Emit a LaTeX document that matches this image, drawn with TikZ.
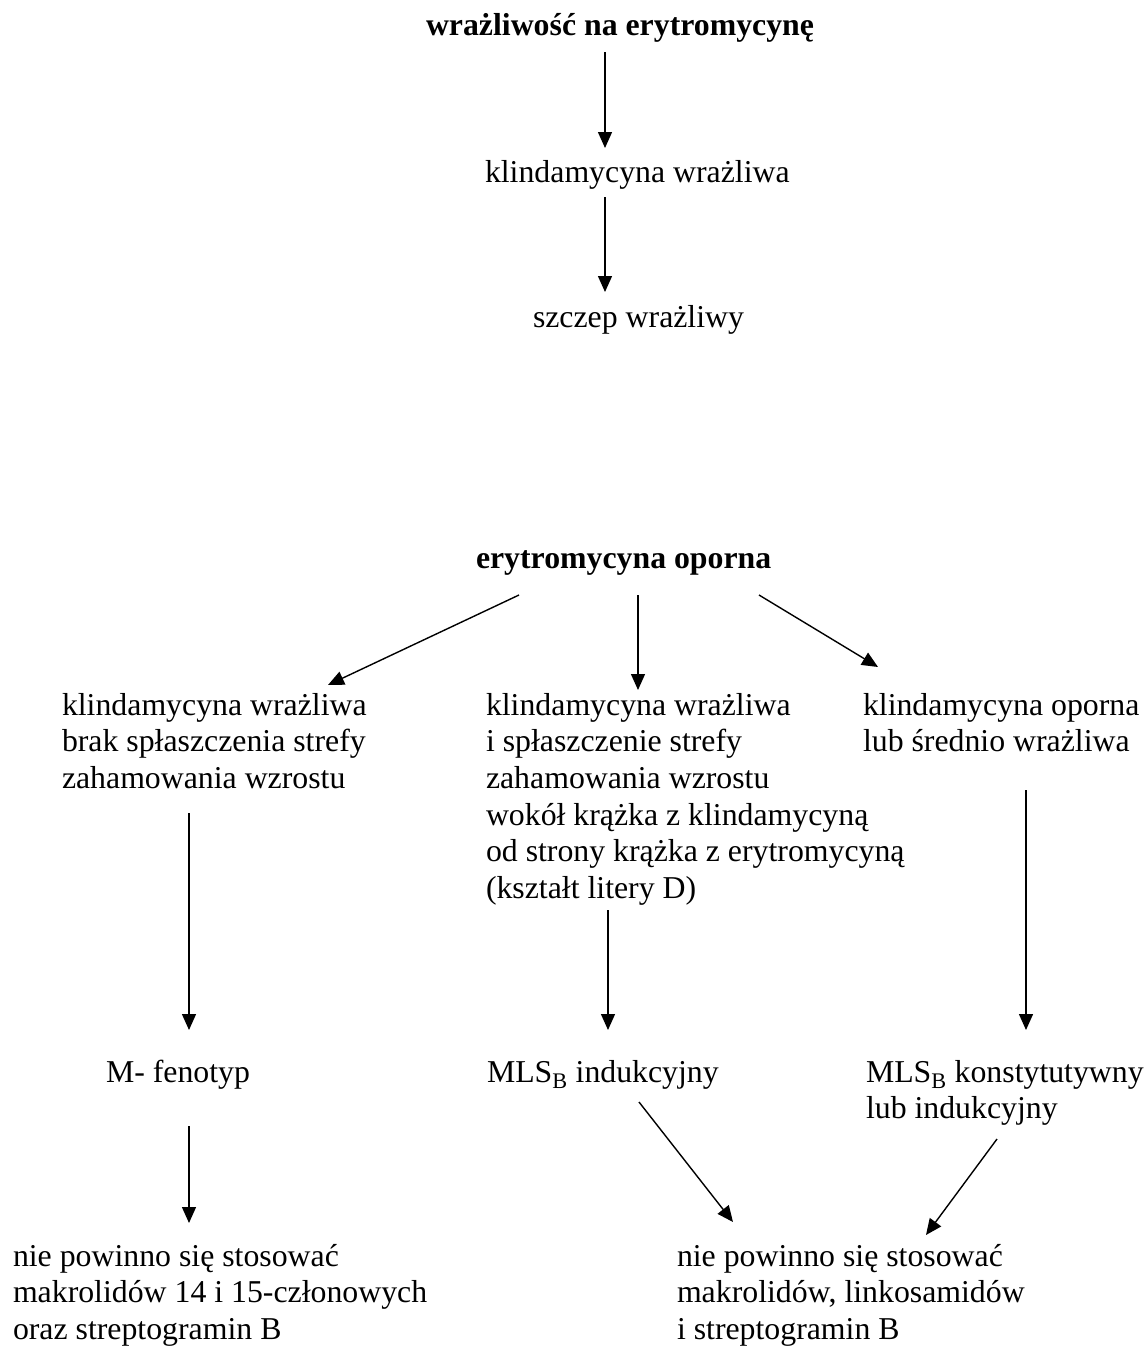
\documentclass[tikz,border=0pt]{standalone}
\usepackage{fontspec}
\setmainfont{Liberation Serif}
\usetikzlibrary{arrows.meta}
\tikzset{
  txt/.style={anchor=base west, inner sep=0pt, outer sep=0pt, align=left,
    font=\fontsize{31.8}{36.7}\selectfont},
  btxt/.style={txt, font=\fontsize{31.8}{36.7}\selectfont\bfseries},
  arr/.style={line width=1.4pt, -{Triangle[length=16pt,width=14pt]}}
}
\begin{document}
\begin{tikzpicture}[x=1pt,y=-1pt]
\useasboundingbox (0,0) rectangle (1146,1347);
% texts (multi-line nodes are placed by the baseline of their last line)
\node[btxt] (title) at (426,35) {wrażliwość na erytromycynę};
\node[txt] (k1) at (485,182) {klindamycyna wrażliwa};
\node[txt] (s1) at (533,327) {szczep wrażliwy};
\node[btxt] (op) at (476,568) {erytromycyna oporna};
\node[txt] (L1) at (62,788.4) {klindamycyna wrażliwa\\brak spłaszczenia strefy\\zahamowania wzrostu};
\node[txt] (M1) at (486,898.5) {klindamycyna wrażliwa\\i spłaszczenie strefy\\zahamowania wzrostu\\wokół krążka z klindamycyną\\od strony krążka z erytromycyną\\(kształt litery D)};
\node[txt] (R1) at (863,751.7) {klindamycyna oporna\\lub średnio wrażliwa};
\node[txt] (L2) at (106,1082) {M- fenotyp};
\node[txt] (M2) at (487,1082) {MLS\textsubscript{B} indukcyjny};
\node[txt] (R2) at (866,1118.7) {MLS\textsubscript{B} konstytutywny\\lub indukcyjny};
\node[txt] (L3) at (13,1339.4) {nie powinno się stosować\\makrolidów 14 i 15-członowych\\oraz streptogramin B};
\node[txt] (M3) at (677,1339.4) {nie powinno się stosować\\makrolidów, linkosamidów\\i streptogramin B};
% connector end points
\coordinate (a1s) at (605,52);   \coordinate (a1e) at (605,148);
\coordinate (a2s) at (605,197);  \coordinate (a2e) at (605,292);
\coordinate (a3s) at (519,595);  \coordinate (a3e) at (328,685);
\coordinate (a4s) at (638,595);  \coordinate (a4e) at (638,690);
\coordinate (a5s) at (759,595);  \coordinate (a5e) at (878,667);
\coordinate (a6s) at (189,813);  \coordinate (a6e) at (189,1030);
\coordinate (a7s) at (608,910);  \coordinate (a7e) at (608,1030);
\coordinate (a8s) at (1026,790); \coordinate (a8e) at (1026,1030);
\coordinate (a9s) at (189,1126); \coordinate (a9e) at (189,1223);
\coordinate (a10s) at (639,1102); \coordinate (a10e) at (733,1222);
\coordinate (a11s) at (997,1139); \coordinate (a11e) at (926,1235);
% connectors
\draw[arr] (a1s) -- (a1e);
\draw[arr] (a2s) -- (a2e);
\draw[arr] (a3s) -- (a3e);
\draw[arr] (a4s) -- (a4e);
\draw[arr] (a5s) -- (a5e);
\draw[arr] (a6s) -- (a6e);
\draw[arr] (a7s) -- (a7e);
\draw[arr] (a8s) -- (a8e);
\draw[arr] (a9s) -- (a9e);
\draw[arr] (a10s) -- (a10e);
\draw[arr] (a11s) -- (a11e);
\end{tikzpicture}
\end{document}
